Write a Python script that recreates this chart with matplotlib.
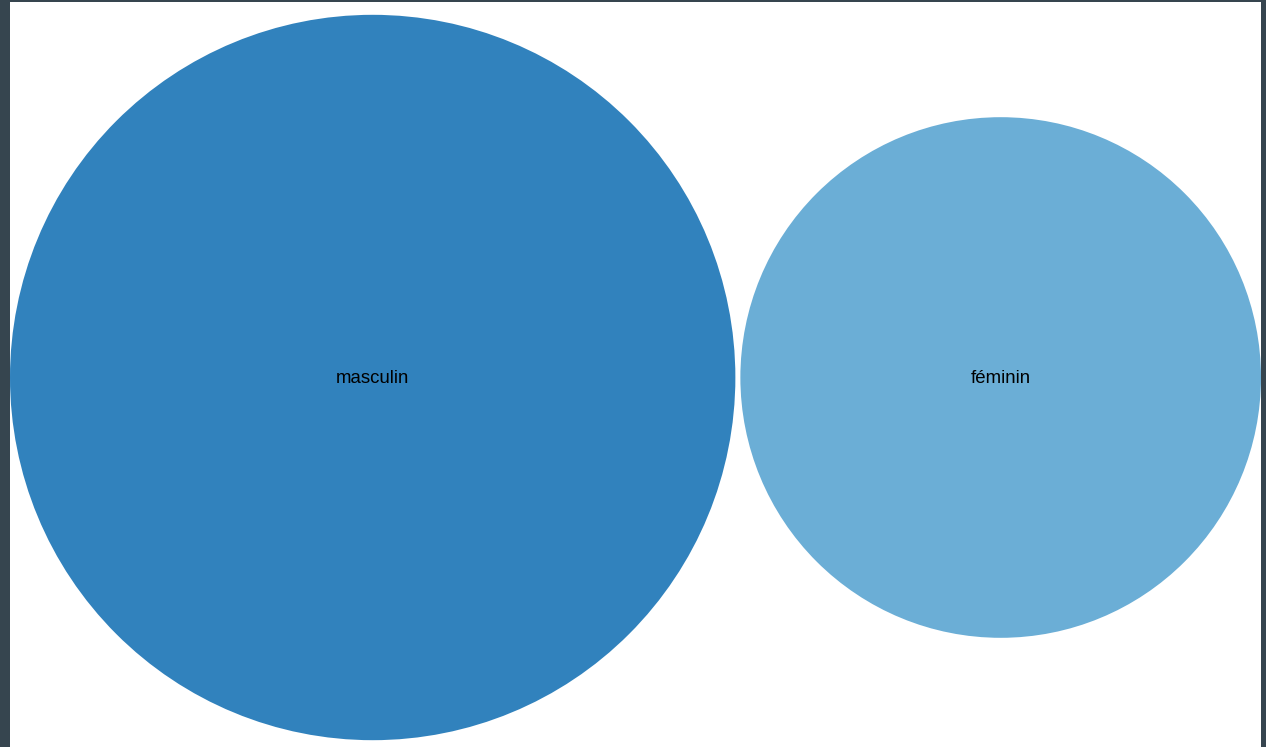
import numpy as np
import matplotlib
matplotlib.use("Agg")
import matplotlib.pyplot as plt
from matplotlib.patches import Circle

categories = ["masculin", "féminin"]
values = [66.0, 34.0]
colors = ["#3182bd", "#6baed6"]

W, H = 1266, 747
fig = plt.figure(figsize=(W / 100, H / 100), dpi=100, facecolor="#36454f")
left, top, right = 10, 2, 1261
aw, ah = right - left, H - top
ax = fig.add_axes([left / W, 0, aw / W, ah / H])
ax.set_facecolor("white")
ax.set_xlim(0, aw)
ax.set_ylim(ah, 0)
ax.axis("off")
ax.add_patch(plt.Rectangle((0, 0), aw, ah, facecolor="white", edgecolor="none", zorder=0))

gap = 5
roots = np.sqrt(values)
k = (aw - gap) / (2 * roots.sum())
radii = k * roots
cy = 375.5
x = 0
for cat, r, c in zip(categories, radii, colors):
    cx = x + r
    ax.add_patch(Circle((cx, cy), r, facecolor=c, edgecolor="none", zorder=1))
    ax.text(cx, cy + 1, cat, ha="center", va="center", fontsize=13.4,
            family=["Liberation Sans", "DejaVu Sans"], color="black", zorder=2)
    x = cx + r + gap

fig.savefig("out.png", dpi=100, facecolor=fig.get_facecolor())
